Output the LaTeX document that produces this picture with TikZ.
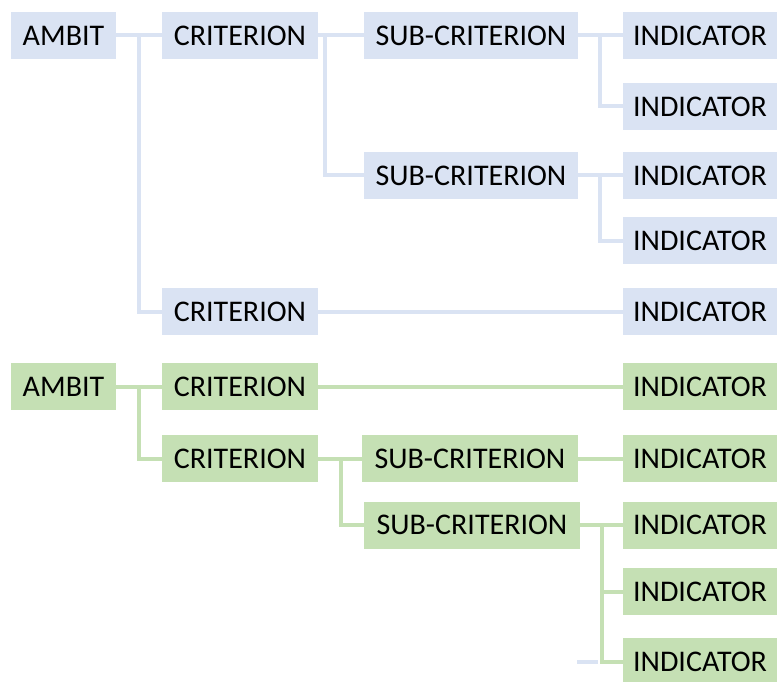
\documentclass[tikz,border=0pt]{standalone}
\usepackage{fontspec}
\setmainfont{Carlito}
\usepackage{tikz}
\usetikzlibrary{positioning}
\definecolor{ambitblue}{HTML}{DAE3F3}
\definecolor{ambitgreen}{HTML}{C5E0B4}

\tikzset{
    box/.style={inner sep=0pt, minimum height=47pt, align=center,
        font=\fontsize{30}{35}\selectfont},
    bluebox/.style={box, fill=ambitblue},
    greenbox/.style={box, fill=ambitgreen},
    blueline/.style={draw=ambitblue, line width=4pt},
    greenline/.style={draw=ambitgreen, line width=4pt}
}

\begin{document}
\begin{tikzpicture}[x=1pt, y=-1pt]
            \useasboundingbox (0,0) rectangle (777,682);

            % Blue tree
            \node[bluebox, minimum width=105pt] (ambitA) at (63.5,35.5) {AMBIT};
            \node[bluebox, minimum width=156pt] (critA) at (240,35.5) {CRITERION};
            \node[bluebox, minimum width=214pt] (subA) at (471,35.5) {SUB-CRITERION};
            \node[bluebox, minimum width=154pt] (indA) at (700,35.5) {INDICATOR};
            \node[bluebox, minimum width=154pt] (indB) at (700,106.5) {INDICATOR};
            \node[bluebox, minimum width=214pt] (subB) at (471,175.5) {SUB-CRITERION};
            \node[bluebox, minimum width=154pt] (indC) at (700,175.5) {INDICATOR};
            \node[bluebox, minimum width=154pt] (indD) at (700,240.5) {INDICATOR};
            \node[bluebox, minimum width=156pt] (critB) at (240,311.5) {CRITERION};
            \node[bluebox, minimum width=154pt] (indE) at (700,311.5) {INDICATOR};

            \draw[blueline] (ambitA.east) -- (critA.west);
            \draw[blueline] (ambitA.east) ++(23,0) |- (critB.west);
            \draw[blueline] (critA.east) -- (subA.west);
            \draw[blueline] (critA.east) ++(7,0) |- (subB.west);
            \draw[blueline] (subA.east) -- (indA.west);
            \draw[blueline] (subA.east) ++(22,0) |- (indB.west);
            \draw[blueline] (subB.east) -- (indC.west);
            \draw[blueline] (subB.east) ++(22,0) |- (indD.west);
            \draw[blueline] (critB.east) -- (indE.west);

            % Green tree
            \node[greenbox, minimum width=105pt] (ambitB) at (63.5,386.5) {AMBIT};
            \node[greenbox, minimum width=156pt] (critC) at (240,386.5) {CRITERION};
            \node[greenbox, minimum width=154pt] (indF) at (700,386.5) {INDICATOR};
            \node[greenbox, minimum width=156pt] (critD) at (240,458.5) {CRITERION};
            \node[greenbox, minimum width=216pt] (subC) at (470,458.5) {SUB-CRITERION};
            \node[greenbox, minimum width=154pt] (indG) at (700,458.5) {INDICATOR};
            \node[greenbox, minimum width=216pt] (subD) at (472,525) {SUB-CRITERION};
            \node[greenbox, minimum width=154pt] (indH) at (700,525) {INDICATOR};
            \node[greenbox, minimum width=154pt] (indI) at (700,591.5) {INDICATOR};
            \node[greenbox, minimum width=154pt] (indJ) at (700,661.5) {INDICATOR};

            \coordinate (stub) at (577,662);
            \draw[blueline] (stub) -- ++(21,0);

            \draw[greenline] (ambitB.east) -- (critC.west);
            \draw[greenline] (ambitB.east) ++(23,0) |- (critD.west);
            \draw[greenline] (critC.east) -- (indF.west);
            \draw[greenline] (critD.east) -- (subC.west);
            \draw[greenline] (critD.east) ++(23,0) |- (subD.west);
            \draw[greenline] (subC.east) -- (indG.west);
            \draw[greenline] (subD.east) -- (indH.west);
            \draw[greenline] (subD.east) ++(22,0) |- (indI.west);
            \draw[greenline] (subD.east) ++(22,0) |- (indJ.west);
\end{tikzpicture}
\end{document}
